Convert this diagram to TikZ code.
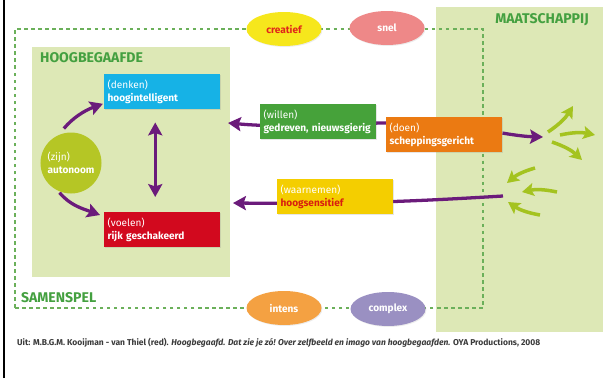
\documentclass[tikz,border=0pt]{standalone}
\usepackage{fontspec}
\setmainfont{Fira Sans}
\usetikzlibrary{arrows.meta,shapes.geometric,shadows}

\definecolor{panelgreen}{HTML}{DDE8B6}
\definecolor{framegreen}{HTML}{6BB05A}
\definecolor{labelgreen}{HTML}{44A040}
\definecolor{denkencyan}{HTML}{16B2E6}
\definecolor{voelenred}{HTML}{D2091E}
\definecolor{willengreen}{HTML}{46A23A}
\definecolor{doenorange}{HTML}{EB7A12}
\definecolor{waarnemenyellow}{HTML}{F4CE00}
\definecolor{sensred}{HTML}{D81E10}
\definecolor{zijngreen}{HTML}{B5C625}
\definecolor{flowpurple}{HTML}{6B1B7B}
\definecolor{limegreen}{HTML}{A4C31F}
\definecolor{creatiefyellow}{HTML}{F6E71C}
\definecolor{creatiefred}{HTML}{E0261A}
\definecolor{snelpink}{HTML}{EE8888}
\definecolor{intensorange}{HTML}{F4A142}
\definecolor{complexlilac}{HTML}{9A90C2}
\definecolor{captiongray}{HTML}{3A3A3A}

\pgfdeclarelayer{bg}
\pgfdeclarelayer{mid}
\pgfsetlayers{bg,mid,main}

\tikzset{
    card/.style={rectangle, anchor=north west, minimum height=1.05cm, text width=3.28cm,
        inner xsep=0.1cm, align=left, text=white, font=\fontsize{8.6}{11}\selectfont,
        drop shadow={opacity=0.2, shadow xshift=0.8pt, shadow yshift=-0.8pt}},
    blob/.style={ellipse, minimum width=2.25cm, minimum height=1.02cm, text=white,
        font=\fontsize{8.6}{10}\selectfont\bfseries,
        drop shadow={opacity=0.15, shadow xshift=0.8pt, shadow yshift=-0.8pt}},
    heading/.style={text=labelgreen, font=\fontsize{12}{14}\selectfont\bfseries},
    flow/.style={draw=flowpurple, line width=2.8pt, -{Stealth[length=11pt,width=12pt,inset=2pt]}},
    flowboth/.style={draw=flowpurple, line width=2.8pt,
        {Stealth[length=11pt,width=12pt,inset=2pt]}-{Stealth[length=11pt,width=12pt,inset=2pt]}},
    spread/.style={draw=limegreen, line width=3pt, -{Stealth[length=10pt,width=11pt,inset=2pt]}},
}

\begin{document}
\begin{tikzpicture}[x=0.03cm, y=0.03cm]
    \useasboundingbox (0,0) rectangle (609,378);
    \draw[black, line width=2pt] (4,0) -- (4,378);

    \begin{pgfonlayer}{bg}
        \fill[panelgreen] (32,101) rectangle (230,331);
        \fill[panelgreen] (436,46) rectangle (603,371);
        \draw[framegreen, line width=1.4pt, dash pattern=on 3pt off 3pt] (15,70) rectangle (483,349);
    \end{pgfonlayer}

    \node[heading, anchor=west] (hoog) at (36,320) {HOOGBEGAAFDE};
    \node[heading] (maat) at (542,358) {MAATSCHAPPIJ};
    \node[heading, anchor=west] (samen) at (17,80) {SAMENSPEL};

    \node[blob, fill=creatiefyellow, text=creatiefred] (creatief) at (284,349) {creatief};
    \node[blob, fill=snelpink] (snel) at (387,350) {snel};
    \node[blob, fill=intensorange] (intens) at (284,70) {intens};
    \node[blob, fill=complexlilac] (complex) at (388,69) {complex};

    \node[card, fill=denkencyan] (denken) at (104,304) {(denken)\\\textbf{hoogintelligent}};
    \node[card, fill=voelenred] (voelen) at (104,166) {(voelen)\\\textbf{rijk geschakeerd}};
    \node[card, fill=willengreen] (willen) at (260,274) {(willen)\\\textbf{gedreven, nieuwsgierig}};
    \node[card, fill=doenorange] (doen) at (386,261) {(doen)\\\textbf{scheppingsgericht}};
    \node[card, fill=waarnemenyellow] (waarnemen) at (277,199) {(waarnemen)\\\textcolor{sensred}{\textbf{hoogsensitief}}};
    \node[circle, fill=zijngreen, minimum size=1.83cm, inner sep=1pt, text=white, align=left,
        font=\fontsize{8.6}{11}\selectfont] (zijn) at (71,215) {(zijn)\\\textbf{autonoom}};

    \coordinate (inA) at (228,255);
    \coordinate (outA) at (543,241);
    \coordinate (inB) at (503,182);
    \coordinate (inC) at (233,175);

    \begin{pgfonlayer}{mid}
        \draw[flow, shorten <=0.25cm, shorten >=1pt] (zijn.114) to[out=50,in=200] ([yshift=-0.35cm]denken.west);
        \draw[flow, shorten <=2pt] (zijn.245) to[out=-50,in=160] ([xshift=-0.12cm,yshift=-0.09cm]voelen.north west);
        \draw[flowboth, shorten <=0.39cm, shorten >=0.45cm] ([xshift=-0.21cm]denken.south) -- ([xshift=-0.21cm]voelen.north);
        \draw[flow] ([yshift=0.35cm]doen.west) to[out=180,in=-5] (inA);
        \draw[flow] ([yshift=0.05cm]doen.east) to[bend right=4] (outA);
        \draw[flow] (inB) to[bend left=2] (inC);
    \end{pgfonlayer}

    % arrows into and out of society
    \foreach \n/\a/\b/\bend in {1/{548,246}/{573,272}/right, 2/{560,243}/{595,243}/left,
            3/{552,236}/{582,218}/left, 4/{535,210}/{507,195}/right,
            5/{557,186}/{522,186}/right, 6/{540,163}/{508,176}/left} {
        \coordinate (s\n) at (\a);
        \coordinate (t\n) at (\b);
        \draw[spread] (s\n) to[bend \bend=12] (t\n);
    }

    \node[anchor=west, text=captiongray, font=\fontsize{7.25}{8}\selectfont\bfseries] (bron) at (13,35)
        {Uit: M.B.G.M. Kooijman - van Thiel (red). \textit{Hoogbegaafd. Dat zie je zó! Over zelfbeeld en imago van hoogbegaafden.} OYA Productions, 2008};
\end{tikzpicture}
\end{document}
